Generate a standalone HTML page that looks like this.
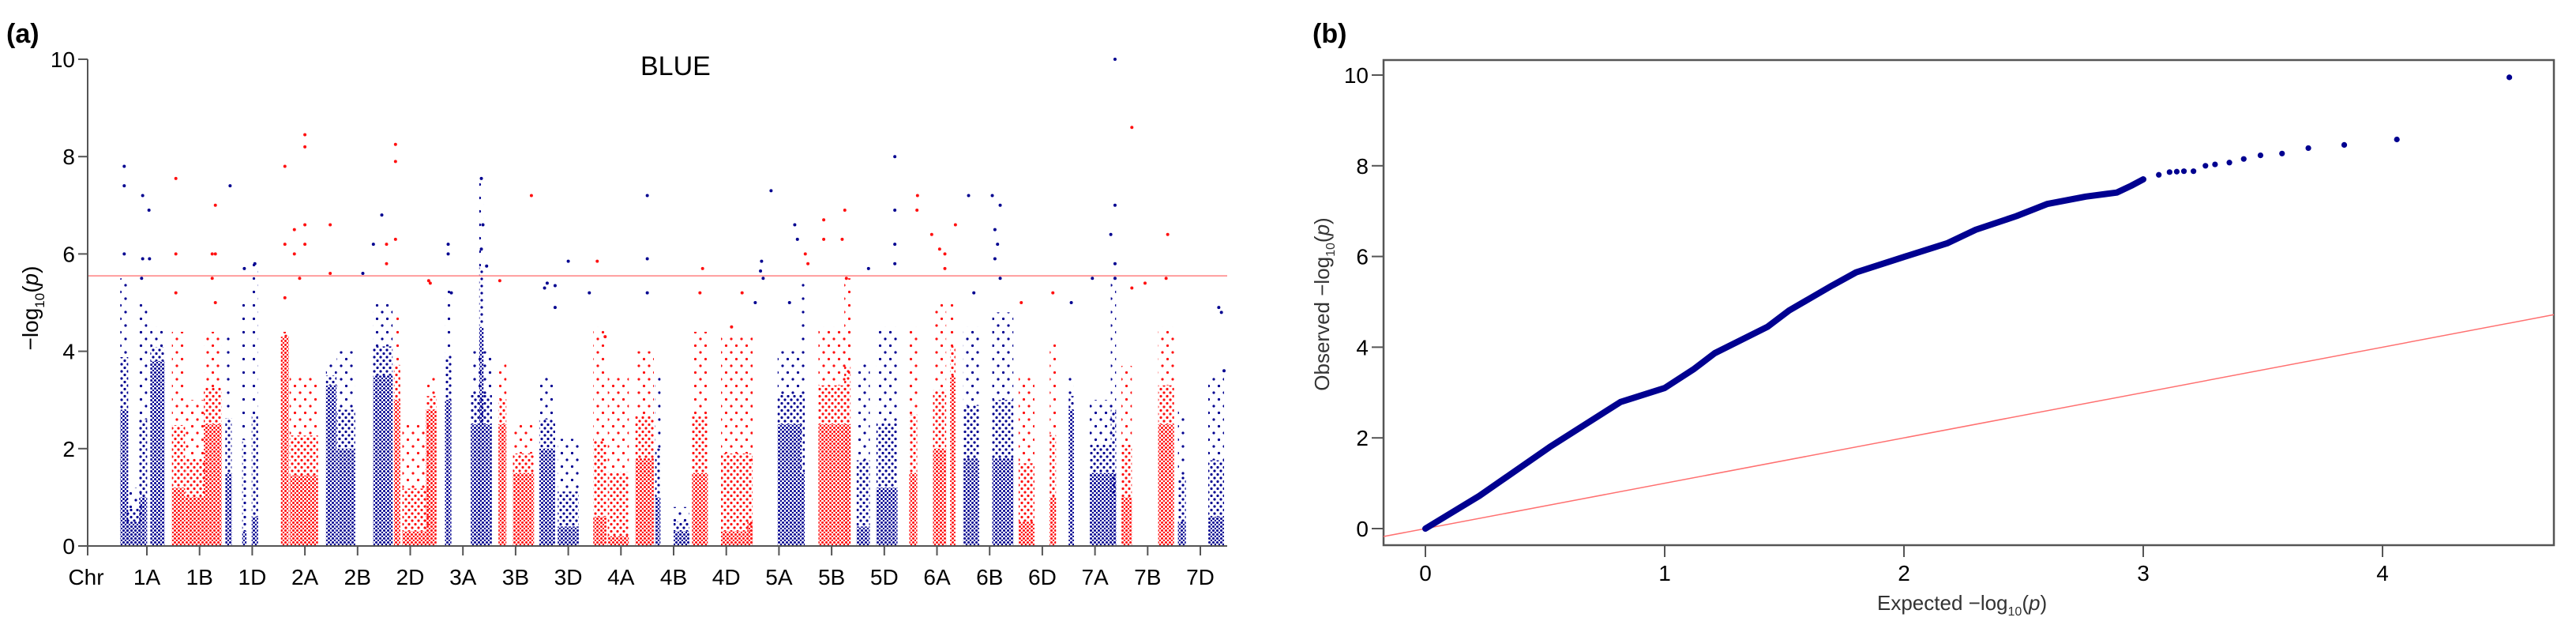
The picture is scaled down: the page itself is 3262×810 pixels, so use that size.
<!DOCTYPE html>
<html><head><meta charset="utf-8">
<style>
html,body{margin:0;padding:0;background:#fff;}
svg{display:block;font-family:"Liberation Sans",sans-serif;}
</style></head>
<body>
<svg id="fig" width="3262" height="810" viewBox="0 0 3262 810" xmlns="http://www.w3.org/2000/svg">
<defs>
<pattern id="denseBlue" patternUnits="userSpaceOnUse" width="5" height="5"><circle cx="1.5" cy="1.5" r="1.5" fill="#000090"/><circle cx="4" cy="4" r="1.3" fill="#000090"/></pattern>
<pattern id="midBlue" patternUnits="userSpaceOnUse" width="8" height="9"><circle cx="2" cy="2" r="1.6" fill="#000090"/><circle cx="6" cy="6.5" r="1.6" fill="#000090"/></pattern>
<pattern id="sparseBlue" patternUnits="userSpaceOnUse" width="13" height="17"><circle cx="3" cy="4" r="1.6" fill="#000090"/><circle cx="9.5" cy="12.5" r="1.6" fill="#000090"/></pattern>
<pattern id="denseRed" patternUnits="userSpaceOnUse" width="5" height="5"><circle cx="1.5" cy="1.5" r="1.5" fill="#ff1010"/><circle cx="4" cy="4" r="1.3" fill="#ff1010"/></pattern>
<pattern id="midRed" patternUnits="userSpaceOnUse" width="8" height="9"><circle cx="2" cy="2" r="1.6" fill="#ff1010"/><circle cx="6" cy="6.5" r="1.6" fill="#ff1010"/></pattern>
<pattern id="sparseRed" patternUnits="userSpaceOnUse" width="13" height="17"><circle cx="3" cy="4" r="1.6" fill="#ff1010"/><circle cx="9.5" cy="12.5" r="1.6" fill="#ff1010"/></pattern>
</defs>
<text x="8" y="54" font-size="34" font-weight="bold">(a)</text>
<text x="1662" y="54" font-size="34" font-weight="bold">(b)</text>
<text x="811" y="95" font-size="34">BLUE</text>
<g id="man"></g>
<g id="qq"></g>
</svg>
<script>
const chromosomes=["1A","1B","1D","2A","2B","2D","3A","3B","3D","4A","4B","4D","5A","5B","5D","6A","6B","6D","7A","7B","7D"];
const yTicks=[0,2,4,6,8,10];
const threshold=5.55;
// bands: [position, width, denseTop, sparseTop]
const bands=[
[0.57,0.15,2.8,5.5],[0.75,0.3,0.5,1.2],[0.93,0.15,1.0,5.0],[1.2,0.27,3.8,4.5],
[1.6,0.25,1.2,4.4],[1.92,0.38,1.0,3.0],[2.25,0.34,2.5,4.4],
[2.55,0.12,1.5,4.3],[2.85,0.08,0.3,5.0],[3.05,0.12,0.6,5.8],
[3.62,0.15,4.3,4.4],[3.98,0.54,1.45,3.5],[4.5,0.2,3.3,3.8],
[4.78,0.35,2.0,4.0],[5.48,0.37,3.5,5.0],
[5.75,0.12,3.0,4.8],[6.4,0.2,2.8,3.5],[6.1,0.5,0.3,2.5],
[6.72,0.12,3.0,5.3],[7.35,0.4,2.5,4.0],[7.35,0.08,4.5,7.6],
[7.75,0.15,2.5,3.8],[8.15,0.4,1.5,2.5],[8.6,0.3,2.0,3.5],
[9.0,0.4,0.4,2.2],[9.6,0.25,0.6,4.5],
[9.95,0.4,0.2,3.5],[10.45,0.35,1.8,4.0],
[10.7,0.1,1.0,3.5],[11.5,0.3,1.5,4.4],[11.15,0.3,0.3,0.8],
[12.2,0.6,0.3,4.3],
[12.45,0.1,0.5,3.5],[13.2,0.45,2.5,4.0],
[13.45,0.08,1.5,5.5],[14.05,0.6,2.5,4.5],[14.3,0.12,2.5,5.5],
[14.6,0.25,0.4,3.8],[15.05,0.4,1.2,4.5],
[15.55,0.15,1.5,4.5],[16.05,0.25,2.0,5.0],[16.3,0.1,3.5,5.0],
[16.65,0.3,1.8,4.5],[17.25,0.4,1.8,4.8],
[17.7,0.3,0.5,3.5],[18.2,0.12,1.0,4.2],
[18.55,0.1,2.8,3.5],[19.15,0.5,1.5,3.0],[19.35,0.1,1.0,5.5],
[19.6,0.2,1.0,3.7],[20.35,0.3,2.5,4.5],
[20.65,0.15,0.5,2.8],[21.3,0.3,0.6,3.5]
];
// hits: [position, value]
const hits=[
[0.57,7.8],[0.57,7.4],[0.57,6.0],[0.92,7.2],[0.92,5.9],[1.04,6.9],[1.05,5.9],[0.9,5.5],
[1.55,7.55],[1.55,6.0],[1.55,5.2],[2.24,6.0],[2.24,5.5],[2.3,7.0],[2.3,6.0],[2.3,5.0],
[2.58,7.4],[3.05,5.8],[2.85,5.7],
[3.62,7.8],[3.62,6.2],[3.62,5.1],[3.8,6.5],[3.8,6.0],[4.0,8.45],[4.0,8.2],[4.0,6.6],[4.0,6.2],[4.48,6.6],[4.48,5.6],[3.9,5.5],
[5.46,6.8],[5.55,6.2],[5.55,5.8],[5.3,6.2],[5.1,5.6],
[5.72,8.25],[5.72,7.9],[5.72,6.3],[6.35,5.45],[6.38,5.4],
[6.72,6.2],[6.72,6.0],[7.35,7.55],[7.38,6.6],[7.35,6.1],[7.45,5.75],[6.78,5.2],
[7.7,5.45],[8.3,7.2],[8.55,5.3],[8.6,5.4],[8.75,5.35],[8.75,4.9],
[9.0,5.85],[9.55,5.85],[9.4,5.2],[9.7,4.3],
[10.5,7.2],[10.5,5.9],[10.5,5.2],
[11.55,5.7],[11.5,5.2],
[12.3,5.2],[12.1,4.5],
[12.67,5.85],[12.65,5.65],[12.7,5.5],[12.85,7.3],[13.3,6.6],[13.35,6.3],[13.2,5.0],[12.55,5.0],
[13.5,6.0],[13.55,5.8],[13.85,6.7],[13.85,6.3],[14.25,6.9],[14.2,6.3],[14.28,5.5],
[15.2,8.0],[15.2,6.9],[15.2,6.2],[14.7,5.7],[15.2,5.8],
[15.63,7.2],[15.62,6.9],[15.9,6.4],[16.05,6.1],[16.15,6.0],[16.15,5.7],[16.35,6.6],
[16.6,7.2],[17.05,7.2],[17.2,7.0],[17.1,6.5],[17.15,6.2],[17.1,5.9],[17.2,5.5],[16.7,5.2],
[18.2,5.2],[17.6,5.0],
[19.38,10.0],[19.38,7.0],[19.3,6.4],[19.38,5.8],[19.38,5.5],[18.95,5.5],[18.55,5.0],
[19.7,8.6],[20.38,6.4],[19.7,5.3],[20.35,5.5],[19.95,5.4],
[21.4,4.8],[21.35,4.9],[21.45,3.6]
];
// QQ data
const qqTicksX=[0,1,2,3,4];
const qqTicksY=[0,2,4,6,8,10];
const qqLineExp=[0,0.225,0.52,0.815,1.0,1.12,1.21,1.43,1.52,1.70,1.80,2.0,2.18,2.30,2.47,2.60,2.76,2.89,2.95,3.0];
const qqLineObs=[0,0.72,1.8,2.79,3.1,3.51,3.87,4.45,4.81,5.36,5.65,5.99,6.29,6.59,6.89,7.16,7.32,7.41,7.56,7.7];
const qqTailExp=[3.0,3.065,3.11,3.14,3.17,3.21,3.26,3.30,3.36,3.42,3.49,3.58,3.69,3.84,4.06,4.53];
const qqTailObs=[7.7,7.8,7.86,7.87,7.88,7.88,8.0,8.03,8.07,8.15,8.23,8.27,8.39,8.46,8.58,9.95];

const NS="http://www.w3.org/2000/svg";
function mk(parent,tag,attrs){const e=document.createElementNS(NS,tag);for(const k in attrs)e.setAttribute(k,attrs[k]);parent.appendChild(e);return e;}

// ---- Manhattan ----
const man=document.getElementById('man');
const mx=p=>186+(p-1)*66.7;
const my=v=>691-v*61.6;
const colorOf=p=>{const i=Math.max(0,Math.min(20,Math.round(p)-1));return i%2===0?'Blue':'Red';};
bands.forEach(b=>{
  const [p,w,d,s]=b;const c=colorOf(p);
  const x0=mx(p-w/2),wp=w*66.7;
  if(s>d){
    const mid=d+(s-d)*0.4;
    const r=mk(man,'rect',{x:x0,y:my(s),width:wp,height:my(mid)-my(s),fill:'url(#sparse'+c+')'});
    
    
    const rm=mk(man,'rect',{x:x0,y:my(mid),width:wp,height:my(d)-my(mid),fill:'url(#mid'+c+')'});
    
    
  }
  const r2=mk(man,'rect',{x:x0,y:my(d),width:wp,height:my(0)-my(d),fill:'url(#dense'+c+')'});
  
  
});
hits.forEach(h=>{
  const c=colorOf(h[0])==='Blue'?'#000090':'#ff1010';
  const e=mk(man,'circle',{cx:mx(h[0]),cy:my(h[1]),r:2,fill:c});
  
  
});
const thr=mk(man,'line',{x1:111,x2:1554,y1:my(threshold),y2:my(threshold),stroke:'#ff8080','stroke-width':1.5});


const yax=mk(man,'line',{x1:111,x2:111,y1:my(10),y2:my(0),stroke:'#555','stroke-width':2});


const xax=mk(man,'line',{x1:111,x2:1554,y1:my(0),y2:my(0),stroke:'#555','stroke-width':2});


yTicks.forEach(t=>{
  mk(man,'line',{x1:99,x2:111,y1:my(t),y2:my(t),stroke:'#555','stroke-width':2});
  const l=mk(man,'text',{x:95,y:my(t)+10,'font-size':28,'text-anchor':'end'});l.textContent=t;
  
  
});
mk(man,'line',{x1:111,x2:111,y1:691,y2:703,stroke:'#555','stroke-width':2});
const chr=mk(man,'text',{x:109,y:740,'font-size':28,'text-anchor':'middle'});chr.textContent='Chr';


chromosomes.forEach((c,i)=>{
  const x=mx(i+1);
  mk(man,'line',{x1:x,x2:x,y1:691,y2:703,stroke:'#555','stroke-width':2});
  const l=mk(man,'text',{x:x,y:740,'font-size':28,'text-anchor':'middle'});l.textContent=c;
  
  
});
const yl=mk(man,'text',{transform:'translate(48,390) rotate(-90)','font-size':28,'text-anchor':'middle'});
yl.innerHTML='−log<tspan font-size="17" dy="8">10</tspan><tspan dy="-8">(</tspan><tspan font-style="italic">p</tspan>)';



// ---- QQ ----
const qq=document.getElementById('qq');
const qx=v=>1805+v*303;
const qy=v=>669-v*57.4;
const box=mk(qq,'rect',{x:1752,y:76,width:1482,height:614,fill:'none',stroke:'#555','stroke-width':2.5});


const xl0=(1752-1805)/303,xl1=(3234-1805)/303;
const ref=mk(qq,'line',{x1:qx(xl0),y1:qy(xl0),x2:qx(xl1),y2:qy(xl1),stroke:'#ff7070','stroke-width':1.5});


const pts=qqLineExp.map((e,i)=>qx(e)+','+qy(qqLineObs[i])).join(' ');
const pl=mk(qq,'polyline',{points:pts,fill:'none',stroke:'#000090','stroke-width':8,'stroke-linecap':'round','stroke-linejoin':'round'});


qqTailExp.forEach((e,i)=>{
  const c=mk(qq,'circle',{cx:qx(e),cy:qy(qqTailObs[i]),r:3.6,fill:'#000090'});
  
  
});
qqTicksY.forEach(t=>{
  mk(qq,'line',{x1:1737,x2:1752,y1:qy(t),y2:qy(t),stroke:'#555','stroke-width':2});
  const l=mk(qq,'text',{x:1733,y:qy(t)+10,'font-size':28,'text-anchor':'end'});l.textContent=t;
  
  
});
qqTicksX.forEach(t=>{
  mk(qq,'line',{x1:qx(t),x2:qx(t),y1:690,y2:705,stroke:'#555','stroke-width':2});
  const l=mk(qq,'text',{x:qx(t),y:735,'font-size':28,'text-anchor':'middle'});l.textContent=t;
  
  
});
const qxl=mk(qq,'text',{x:2377,y:772,'font-size':26,fill:'#333'});
qxl.innerHTML='Expected  −log<tspan font-size="16" dy="7">10</tspan><tspan dy="-7">(</tspan><tspan font-style="italic">p</tspan>)';


const qyl=mk(qq,'text',{transform:'translate(1683,385) rotate(-90)','font-size':26,'text-anchor':'middle',fill:'#333'});
qyl.innerHTML='Observed  −log<tspan font-size="16" dy="7">10</tspan><tspan dy="-7">(</tspan><tspan font-style="italic">p</tspan>)';


</script>
</body></html>
